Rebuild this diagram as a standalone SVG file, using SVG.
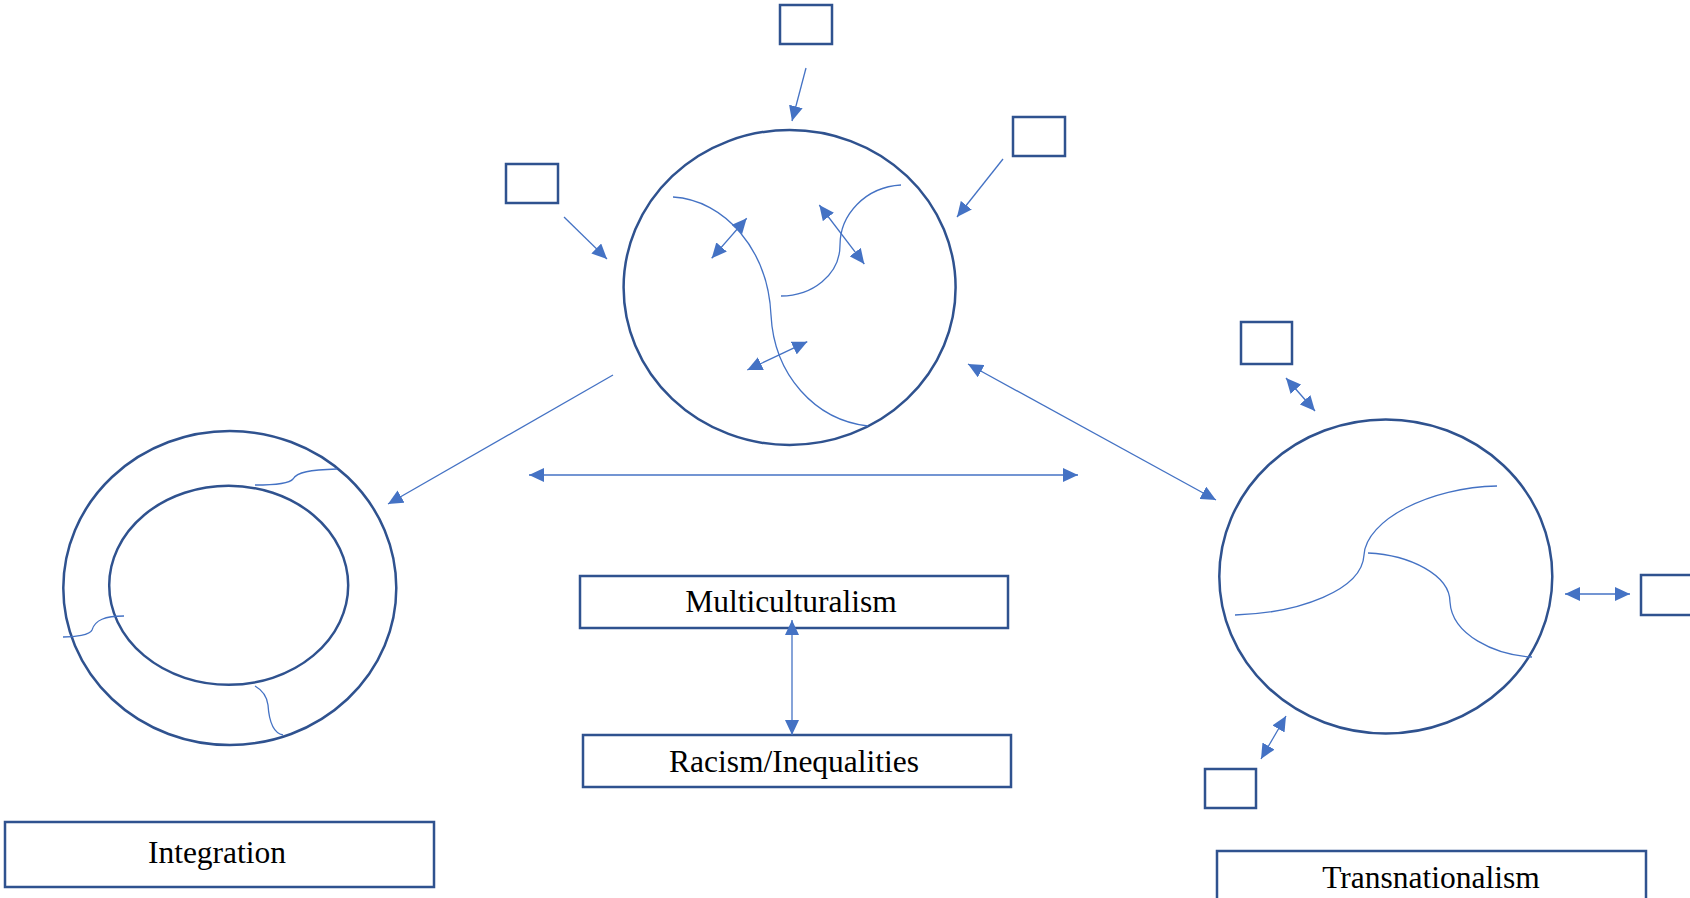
<svg xmlns="http://www.w3.org/2000/svg" width="1690" height="898" viewBox="0 0 1690 898">
<style>
.shape{fill:none;stroke:#2F528F;stroke-width:2.5}
.box{fill:#ffffff;stroke:#2F528F;stroke-width:2.5}
.curve{fill:none;stroke:#4472C4;stroke-width:1.3}
.conn{fill:none;stroke:#4472C4;stroke-width:1.3}
.one{marker-end:url(#ah)}
.two{marker-start:url(#ah);marker-end:url(#ah)}
.lbl{font-family:"Liberation Serif","Times New Roman",serif;font-size:31.5px;fill:#000;text-anchor:middle}
</style>
<defs>
<marker id="ah" markerUnits="userSpaceOnUse" markerWidth="15" markerHeight="14" refX="15" refY="7" orient="auto-start-reverse" viewBox="0 0 15 14">
<path d="M0,0 L15,7 L0,14 z" fill="#4472C4"/>
</marker>
</defs>
<rect width="1690" height="898" fill="#ffffff"/>

<g id="multicultural-circle">
<ellipse class="shape" cx="789.6" cy="287.5" rx="166" ry="157.5"/>
<path class="curve" d="M673,197 C725,200 768,250 771,315 C774,375 815,420 868,426"/>
<path class="curve" d="M901,185 C865,187 840,215 840,245 C840,275 812,296 781,296"/>
</g>

<g id="integration-circle">
<ellipse class="shape" cx="229.8" cy="588" rx="166.5" ry="157"/>
<ellipse class="shape" cx="228.7" cy="585.3" rx="119.5" ry="99.5"/>
<path class="curve" d="M255,485 C275,485 290,483 293,479 C297,472 310,470 337,469"/>
<path class="curve" d="M63,637 C75,637 90,635 92,630 C95,620 105,616 124,616"/>
<path class="curve" d="M255,686 C262,690 267,697 268,705 C269,720 273,733 283,735"/>
</g>

<g id="transnational-circle">
<ellipse class="shape" cx="1385.8" cy="576.5" rx="166.5" ry="157"/>
<path class="curve" d="M1235,615 C1300,613 1362,590 1364,555 C1366,520 1430,487 1497,486"/>
<path class="curve" d="M1368,553 C1410,555 1450,575 1450,602 C1452,635 1495,655 1532,657"/>
</g>

<g id="box-top"><rect class="box" x="780" y="5" width="52" height="39"/></g>
<g id="box-top-right"><rect class="box" x="1013" y="117" width="52" height="39"/></g>
<g id="box-top-left"><rect class="box" x="506" y="164" width="52" height="39"/></g>
<g id="box-trans-top"><rect class="box" x="1241" y="322" width="51" height="42"/></g>
<g id="box-trans-bottom"><rect class="box" x="1205" y="769" width="51" height="39"/></g>
<g id="box-trans-right"><rect class="box" x="1641" y="575" width="60" height="40"/></g>

<g id="multiculturalism">
<rect class="box" x="580" y="576" width="428" height="52"/>
<text class="lbl" x="791" y="612">Multiculturalism</text>
</g>
<g id="racism">
<rect class="box" x="583" y="735" width="428" height="52"/>
<text class="lbl" x="794" y="771.5">Racism/Inequalities</text>
</g>
<g id="integration">
<rect class="box" x="5" y="822" width="429" height="65"/>
<text class="lbl" x="217" y="863">Integration</text>
</g>
<g id="transnationalism">
<rect class="box" x="1217" y="851" width="429" height="65"/>
<text class="lbl" x="1431" y="888">Transnationalism</text>
</g>

<g id="connectors">
<path class="conn one" d="M806,68 L792,121"/>
<path class="conn one" d="M1003,159 L957,217"/>
<path class="conn one" d="M564,217 L607,259"/>
<path class="conn one" d="M613,375 L388,504"/>
<path class="conn two" d="M968,364 L1216,500"/>
<path class="conn two" d="M529,475 L1078,475"/>
<path class="conn two" d="M792,620 L792,735"/>
<path class="conn two" d="M711.7,258.3 L746.7,218.3"/>
<path class="conn two" d="M819.3,205 L864.3,264"/>
<path class="conn two" d="M747.3,370 L807.3,341.7"/>
<path class="conn two" d="M1286,378 L1315,411"/>
<path class="conn two" d="M1565,594 L1630,594"/>
<path class="conn two" d="M1286,716 L1261,759"/>
</g>
</svg>
